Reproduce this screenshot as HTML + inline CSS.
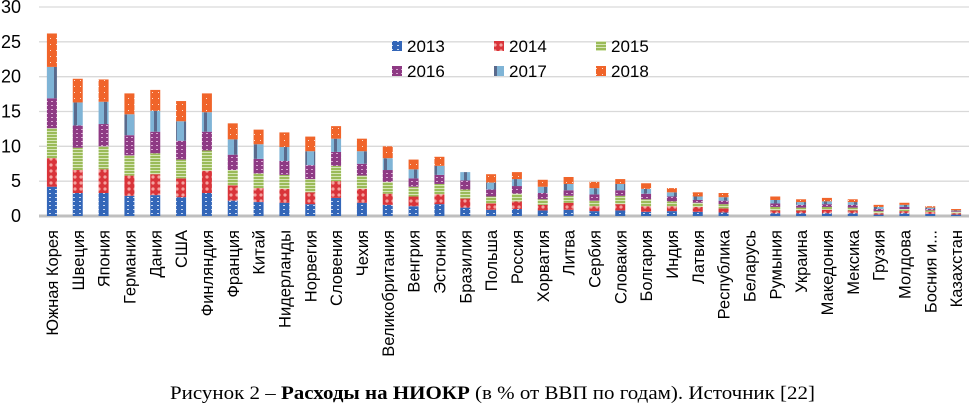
<!DOCTYPE html>
<html><head><meta charset="utf-8"><style>
body{margin:0;background:#fff;width:969px;height:406px;overflow:hidden}
svg{display:block}
</style></head><body>
<svg id="chart" width="969" height="406" viewBox="0 0 969 406" xmlns="http://www.w3.org/2000/svg">
<defs>
<pattern id="p0" width="6" height="4" patternUnits="userSpaceOnUse"><rect width="6" height="4" fill="#3366b8"/><rect x="1" y="1" width="2" height="1" fill="#c9d8f0"/></pattern>
<pattern id="p1" width="6" height="6" patternUnits="userSpaceOnUse"><rect width="6" height="6" fill="#d9343a"/><circle cx="3" cy="3" r="1.6" fill="#f4a3a0"/></pattern>
<pattern id="p2" width="4" height="3" patternUnits="userSpaceOnUse"><rect width="4" height="3" fill="#9bbb59"/><rect y="2" width="4" height="1" fill="#d6e6b8"/></pattern>
<pattern id="p3" width="5" height="4" patternUnits="userSpaceOnUse"><rect width="5" height="4" fill="#8e3a84"/><rect x="1" y="1" width="2" height="1" fill="#d9a8d2"/></pattern>
<pattern id="p4" width="10" height="4" patternUnits="userSpaceOnUse"><rect width="10" height="4" fill="#7fb4d6"/><rect x="4" width="3" height="4" fill="#5a6a8c"/></pattern>
<pattern id="p5" width="6" height="6" patternUnits="userSpaceOnUse"><rect width="6" height="6" fill="#f0642a"/><rect x="2" y="2" width="1" height="1" fill="#fde0d0"/></pattern>
</defs>
<g id="grid"></g><g id="bars"></g><g id="labels"></g><g id="legend"></g>
<text x="170" y="399" textLength="645" lengthAdjust="spacingAndGlyphs" font-family="Liberation Serif, serif" font-size="19">Рисунок 2 – <tspan font-weight="bold">Расходы на НИОКР</tspan> (в % от ВВП по годам). Источник [22]</text>
</svg>
<script>
const categories=["Южная Корея","Швеция","Япония","Германия","Дания","США","Финляндия","Франция","Китай","Нидерланды","Норвегия","Словения","Чехия","Великобритания","Венгрия","Эстония","Бразилия","Польша","Россия","Хорватия","Литва","Сербия","Словакия","Болгария","Индия","Латвия","Республика","Беларусь","Румыния","Украина","Македония","Мексика","Грузия","Молдова","Босния и...","Казахстан"];
const years=["2013","2014","2015","2016","2017","2018"];
const v2013=[4.2,3.3,3.3,2.9,3.0,2.7,3.3,2.2,2.0,1.9,1.7,2.6,1.9,1.6,1.4,1.7,1.2,0.9,1.0,0.8,0.9,0.7,0.8,0.6,0.7,0.6,0.5,0,0.4,0.4,0.4,0.4,0.2,0.4,0.3,0.2];
const v2014=[4.1,3.3,3.4,2.9,3.0,2.7,3.2,2.2,2.0,2.0,1.7,2.4,2.0,1.6,1.4,1.4,1.3,0.9,1.1,0.8,1.0,0.7,0.9,0.8,0.7,0.7,0.6,0,0.4,0.4,0.5,0.4,0.2,0.3,0.3,0.2];
const v2015=[4.3,3.2,3.3,2.9,3.0,2.7,2.9,2.2,2.1,2.0,1.9,2.2,1.9,1.7,1.4,1.5,1.3,1.0,1.1,0.8,1.0,0.8,1.2,1.0,0.7,0.6,0.6,0,0.5,0.4,0.4,0.4,0.3,0.3,0.2,0.2];
const v2016=[4.3,3.2,3.2,2.9,3.1,2.7,2.7,2.2,2.1,2.0,2.0,2.0,1.7,1.7,1.2,1.3,1.3,1.0,1.1,0.9,0.8,0.9,0.8,0.8,0.7,0.4,0.5,0,0.5,0.4,0.4,0.4,0.3,0.3,0.2,0.1];
const v2017=[4.5,3.3,3.2,3.0,3.0,2.8,2.8,2.2,2.1,2.0,2.0,1.9,1.8,1.7,1.3,1.3,1.2,1.0,1.0,0.9,0.9,0.9,0.9,0.7,0.6,0.5,0.5,0,0.5,0.4,0.4,0.4,0.3,0.3,0.2,0.1];
const v2018=[4.8,3.4,3.2,3.0,3.0,2.9,2.7,2.3,2.1,2.1,2.1,1.8,1.8,1.7,1.4,1.3,0,1.2,1.0,1.0,1.0,0.9,0.7,0.8,0.6,0.6,0.6,0,0.5,0.4,0.5,0.4,0.3,0.3,0.2,0.2];
const yTicks=[0,5,10,15,20,25,30];
const series=[v2013,v2014,v2015,v2016,v2017,v2018];
const NS="http://www.w3.org/2000/svg";
const X0=39,X1=969,Y0=216,YTOP=7,YMAX=30;
const step=(X1-X0)/categories.length;
function y(v){return Y0-(v/YMAX)*(Y0-YTOP);}
function xc(i){return X0+step*(i+0.5);}
function mk(t,a,p){const e=document.createElementNS(NS,t);for(const k in a)e.setAttribute(k,a[k]);p.appendChild(e);return e;}
const grid=document.getElementById('grid'),bars=document.getElementById('bars'),labels=document.getElementById('labels'),legend=document.getElementById('legend');
yTicks.forEach(t=>{
  if(t>0){const l=mk('line',{x1:X0,x2:X1,y1:y(t),y2:y(t),stroke:'#d9d9d9','stroke-width':1.3},grid);
  
  }
  const tx=mk('text',{x:21,y:y(t)+6,'text-anchor':'end','font-family':'Liberation Sans, sans-serif','font-size':18},grid);
  tx.textContent=t;
  
  
});
const ax=mk('line',{x1:X0,x2:X1,y1:Y0,y2:Y0,stroke:'#bfbfbf','stroke-width':3},grid);


categories.forEach((c,i)=>{
  let cum=0;
  series.forEach((s,k)=>{
    const v=s[i]; if(v<=0)return;
    const r=mk('rect',{x:xc(i)-5,width:10,y:y(cum+v),height:y(cum)-y(cum+v),fill:'url(#p'+k+')'},bars);
    
    
    cum+=v;
  });
  const t=mk('text',{'text-anchor':'end','font-family':'Liberation Sans, sans-serif','font-size':16.5,transform:'translate('+(xc(i)+6)+',230) rotate(-90)'},labels);
  t.textContent=c;
  
  
});
const lx=[397,499,601],ly=[46,71];
years.forEach((yr,k)=>{
  const g=mk('g',{},legend);
  
  
  const X=lx[k%3],Y=ly[Math.floor(k/3)];
  mk('rect',{x:X-5,y:Y-5,width:10,height:10,fill:'url(#p'+k+')'},g);
  const t=mk('text',{x:X+10,y:Y+6,'font-family':'Liberation Sans, sans-serif','font-size':17},g);
  t.textContent=yr;
});
</script>
</body></html>
